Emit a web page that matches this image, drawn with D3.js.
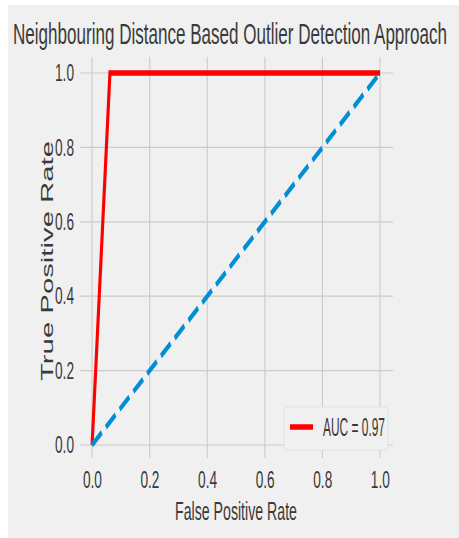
<!DOCTYPE html>
<html>
<head>
<meta charset="utf-8">
<script src="https://cdn.jsdelivr.net/npm/d3@7"></script>
<style>
  body { margin: 0; background: #fff; }
  text { font-family: "Liberation Sans", Arial, sans-serif; fill: #3a3a3a; }
</style>
</head>
<body>
<svg id="chart"></svg>
<script>
// ROC curve values
const fpr = [0, 0.062, 1];
const tpr = [0, 1, 1];
const chanceX = [0, 1];
const chanceY = [0, 1];
const xTicks = [0, 0.2, 0.4, 0.6, 0.8, 1.0];
const yTicks = [0, 0.2, 0.4, 0.6, 0.8, 1.0];
const legendLabel = "AUC = 0.97";
const titleText = "Neighbouring Distance Based Outlier Detection Approach";

const width = 459;
const height = 538;
// the source image is squeezed horizontally
const sx = 0.57;

const svg = d3.select("#chart")
  .attr("width", width)
  .attr("height", height);

svg.append("rect")
  .attr("x", 8).attr("y", 5)
  .attr("width", width - 8).attr("height", height - 5)
  .attr("fill", "#f0f0f0");

// screen scales
const xs = d3.scaleLinear().domain([-0.042, 1.045]).range([80, 393]);
const ys = d3.scaleLinear().domain([-0.035, 1.043]).range([458, 57]);
// same scale inside the squeezed group
const xg = d3.scaleLinear().domain(xs.domain()).range(xs.range().map(v => v / sx));

const g = svg.append("g").attr("transform", `scale(${sx},1)`);

// grid
g.selectAll(".vgrid")
  .data(xTicks)
  .enter()
  .append("line")
  .attr("class", "vgrid")
  .attr("x1", d => xg(d)).attr("x2", d => xg(d))
  .attr("y1", ys.range()[1]).attr("y2", ys.range()[0])
  .attr("stroke", "#cbcbcb")
  .attr("stroke-width", 1.1 / sx);

g.selectAll(".hgrid")
  .data(yTicks)
  .enter()
  .append("line")
  .attr("class", "hgrid")
  .attr("x1", xg.range()[0]).attr("x2", xg.range()[1])
  .attr("y1", d => ys(d)).attr("y2", d => ys(d))
  .attr("stroke", "#cbcbcb")
  .attr("stroke-width", 1.2);

// axes labels
const xAxis = d3.axisBottom(xg).tickValues(xTicks).tickFormat(d3.format(".1f")).tickSize(0).tickPadding(13);
const yAxis = d3.axisLeft(ys).tickValues(yTicks).tickFormat(d3.format(".1f")).tickSize(0).tickPadding(6 / sx);

g.append("g")
  .attr("transform", `translate(0,${ys.range()[0]})`)
  .call(xAxis)
  .call(a => a.select(".domain").remove())
  .selectAll("text")
  .attr("font-size", 24)
  .attr("font-family", "Liberation Sans, Arial, sans-serif")
  .attr("fill", "#3a3a3a");

g.append("g")
  .attr("transform", `translate(${xg.range()[0]},0)`)
  .call(yAxis)
  .call(a => a.select(".domain").remove())
  .selectAll("text")
  .attr("font-size", 24)
  .attr("font-family", "Liberation Sans, Arial, sans-serif")
  .attr("fill", "#3a3a3a");

// lines
const line = d3.line().x(d => xg(d[0])).y(d => ys(d[1]));

g.append("path")
  .datum(fpr.map((f, i) => [f, tpr[i]]))
  .attr("d", line)
  .attr("fill", "none")
  .attr("stroke", "#ff0000")
  .attr("stroke-width", 5.5)
  .attr("stroke-linejoin", "miter");

g.append("path")
  .datum(chanceX.map((f, i) => [f, chanceY[i]]))
  .attr("d", line)
  .attr("fill", "none")
  .attr("stroke", "#008fd5")
  .attr("stroke-width", 5.5)
  .attr("stroke-dasharray", "21,9");

// title and axis titles
g.append("text")
  .attr("x", 230 / sx).attr("y", 44)
  .attr("text-anchor", "middle")
  .attr("font-size", 30)
  .attr("textLength", 434 / sx)
  .attr("lengthAdjust", "spacingAndGlyphs")
  .text(titleText);

g.append("text")
  .attr("x", 236 / sx).attr("y", 520)
  .attr("text-anchor", "middle")
  .attr("font-size", 26)
  .attr("textLength", 122 / sx)
  .attr("lengthAdjust", "spacingAndGlyphs")
  .text("False Positive Rate");

g.append("text")
  .attr("transform", `translate(${53 / sx},261) rotate(-90)`)
  .attr("text-anchor", "middle")
  .attr("font-size", 30)
  .attr("textLength", 240)
  .attr("lengthAdjust", "spacingAndGlyphs")
  .text("True Positive Rate");

// legend
const legend = g.append("g");
legend.append("rect")
  .attr("x", 284 / sx).attr("y", 407)
  .attr("width", 104 / sx).attr("height", 43)
  .attr("rx", 4 / sx).attr("ry", 4)
  .attr("fill", "#f0f0f0")
  .attr("stroke", "#dedede")
  .attr("stroke-width", 1);
legend.append("line")
  .attr("x1", 290 / sx).attr("x2", 313 / sx)
  .attr("y1", 427).attr("y2", 427)
  .attr("stroke", "#ff0000")
  .attr("stroke-width", 5.5);
legend.append("text")
  .attr("x", 323 / sx).attr("y", 436)
  .attr("font-size", 25)
  .attr("textLength", 62 / sx)
  .attr("lengthAdjust", "spacingAndGlyphs")
  .text(legendLabel);
</script>
</body>
</html>
